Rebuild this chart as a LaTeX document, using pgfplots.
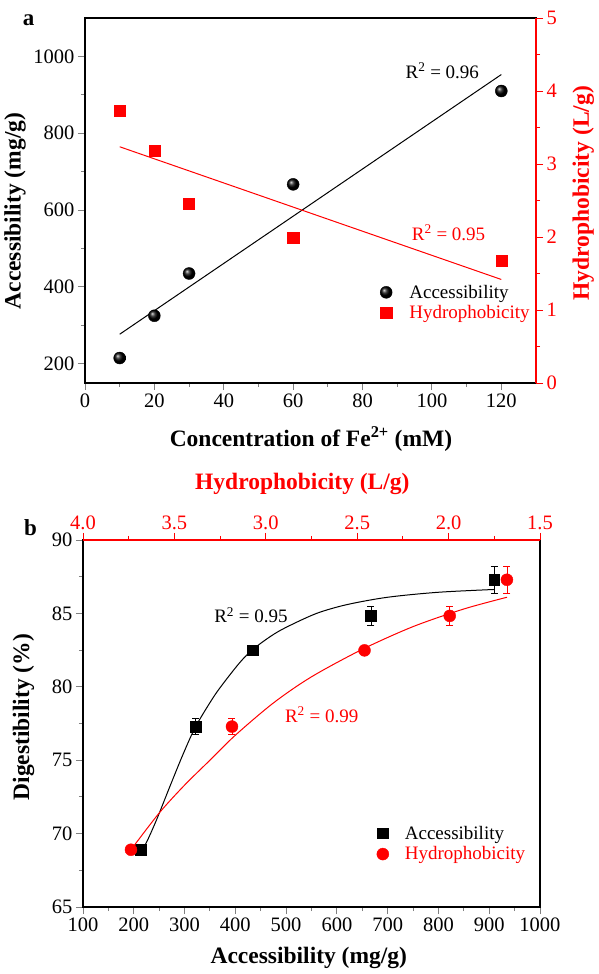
\documentclass[border=0pt]{standalone}
\usepackage{fontspec}
\setmainfont{Liberation Serif}
\usepackage{pgfplots}
\pgfplotsset{compat=1.18}
\definecolor{myred}{RGB}{255,0,0}
\begin{document}
\begin{tikzpicture}
\path[use as bounding box] (0pt,0pt) rectangle (598pt,974pt);
\pgfplotsset{
  base/.style={
    scale only axis, anchor=south west,
    tick align=outside,
    major tick length=7pt, minor tick length=4pt,
    tick style={line width=0.9pt},
    axis line style={line width=1.1pt},
    tick label style={font=\fontsize{20.5}{22}\selectfont},
    label style={font=\bfseries\fontsize{23.5}{26}\selectfont},
    /pgf/number format/assume math mode=true,
    /pgf/number format/1000 sep={},
    clip=false,
  },
}
% ---------------- panel a ----------------
\begin{axis}[base, at={(85pt,591pt)}, width=451pt, height=365pt,
  xmin=0, xmax=130, ymin=150, ymax=1100,
  xtick={0,20,...,120}, ytick={200,400,...,1000},
  minor x tick num=1, minor y tick num=1,
  tick pos=left,
  xlabel={Concentration of Fe\textsuperscript{2+} (mM)},
  ylabel={Accessibility (mg/g)},
  xlabel style={at={(axis description cs:0.501,-0.153)}, anchor=center},
  ylabel style={at={(axis description cs:-0.155,0.471)}, anchor=center},
]
\addplot[black, line width=1pt] coordinates {(10,276.9) (120,952.8)};
\addplot[only marks, mark=ball, mark size=6pt, mark options={ball color=black}]
  coordinates {(10,215) (20,325) (30,435) (60,667) (120,910)};
\node[font=\fontsize{19}{22}\selectfont] at (axis cs:103,963) {R\textsuperscript{2} = 0.96};
\node[font=\bfseries\fontsize{23}{26}\selectfont, anchor=center] at (axis description cs:-0.125,0.995) {a};
\end{axis}
\begin{axis}[base, at={(85pt,591pt)}, width=451pt, height=365pt,
  xmin=0, xmax=130, ymin=0, ymax=5,
  axis x line=none, axis y line*=right,
  ytick={0,1,...,5}, minor y tick num=1,
  axis line style={myred}, tick style={myred}, tick label style={myred},
  ylabel={Hydrophobicity (L/g)},
  ylabel style={myred, at={(axis description cs:1.105,0.52)}, anchor=center},
  legend style={at={(axis description cs:0.647,0.28)}, anchor=north west, draw=none, fill=none,
    font=\fontsize{19}{22}\selectfont, row sep=2pt, column sep=15pt},
  legend cell align=left,
]
\addlegendimage{only marks, mark=ball, mark size=6pt, mark options={ball color=black}}
\addlegendentry{Accessibility}
\addplot[only marks, mark=square*, mark size=5.6pt, myred]
  coordinates {(10,3.73) (20,3.18) (30,2.46) (60,1.99) (120,1.68)};
\addlegendentry[text=myred]{Hydrophobicity}
\addplot[myred, line width=1pt, forget plot] coordinates {(10,3.236) (120,1.418)};
\node[font=\fontsize{19}{22}\selectfont, text=myred] at (axis cs:104.8,2.06) {R\textsuperscript{2} = 0.95};
\end{axis}
% ---------------- panel b ----------------
\begin{axis}[base, at={(83pt,67pt)}, width=457pt, height=367pt,
  xmin=100, xmax=1000, ymin=65, ymax=90,
  xtick={100,200,...,1000}, ytick={65,70,...,90},
  minor x tick num=1, minor y tick num=1,
  tick pos=left,
  xlabel={Accessibility (mg/g)},
  ylabel={Digestibility (\%)},
  xlabel style={at={(axis description cs:0.494,-0.139)}, anchor=center},
  ylabel style={at={(axis description cs:-0.13,0.517)}, anchor=center},
]
\addplot[black, line width=1pt, smooth] coordinates {
  (213,68.7) (225,69.4) (245,70.95) (271,73.2) (297,75.4) (322,77.3) (357,79.3)
  (380,80.4) (410,81.7) (434.5,82.55) (470,83.45) (500,84.05) (560,85.0) (620,85.6)
  (700,86.1) (800,86.44) (910,86.63)};
\addplot[only marks, mark=square*, mark size=5.3pt, black,
  error bars/.cd, y dir=both, y explicit,
  error bar style={line width=0.8pt},
  error mark options={rotate=90, mark size=3.5pt, line width=0.8pt}]
  coordinates {(213.3,68.9) +- (0,0.1) (322,77.29) +- (0,0.53) (434.5,82.48) +- (0,0.1)
               (667,84.83) +- (0,0.68) (910,87.29) +- (0,0.93)};
\node[font=\fontsize{19}{22}\selectfont] at (axis cs:430.7,84.88) {R\textsuperscript{2} = 0.95};
\node[font=\bfseries\fontsize{23}{26}\selectfont, anchor=center] at (axis description cs:-0.115,1.035) {b};
\end{axis}
\begin{axis}[base, at={(83pt,67pt)}, width=457pt, height=367pt,
  xmin=1.5, xmax=4, x dir=reverse, ymin=65, ymax=90,
  axis y line=none, axis x line*=top,
  xtick={1.5,2.0,2.5,3.0,3.5,4.0}, minor x tick num=1,
  xticklabel style={/pgf/number format/.cd, fixed, fixed zerofill, precision=1},
  axis line style={myred}, tick style={myred}, tick label style={myred},
  xlabel={Hydrophobicity (L/g)},
  xlabel style={myred, at={(axis description cs:0.48,1.153)}, anchor=center},
  legend style={at={(axis description cs:0.636,0.232)}, anchor=north west, draw=none, fill=none,
    font=\fontsize{19}{22}\selectfont, row sep=2pt, column sep=14pt},
  legend cell align=left,
]
\addlegendimage{only marks, mark=square*, mark size=5.3pt, black}
\addlegendentry{Accessibility}
\addplot[only marks, mark=*, mark size=6pt, myred,
  error bars/.cd, y dir=both, y explicit,
  error bar style={line width=0.8pt, myred},
  error mark options={rotate=90, mark size=3.5pt, line width=0.8pt, myred}]
  coordinates {(3.7375,68.9) +- (0,0.1) (3.185,77.29) +- (0,0.53) (2.46,82.48) +- (0,0.1)
               (1.994,84.83) +- (0,0.68) (1.681,87.29) +- (0,0.93)};
\addlegendentry[text=myred]{Hydrophobicity}
\addplot[myred, line width=1pt, smooth, forget plot] coordinates {
  (3.7375,68.9) (3.5833,71.4) (3.4444,73.3) (3.3056,75.0) (3.1667,76.7) (2.9583,78.9)
  (2.75,80.68) (2.4722,82.55) (2.1944,84.1) (1.9167,85.3) (1.6806,86.1)};
\node[font=\fontsize{19}{22}\selectfont, text=myred] at (axis cs:2.6944,78.1) {R\textsuperscript{2} = 0.99};
\end{axis}
\end{tikzpicture}
\end{document}
